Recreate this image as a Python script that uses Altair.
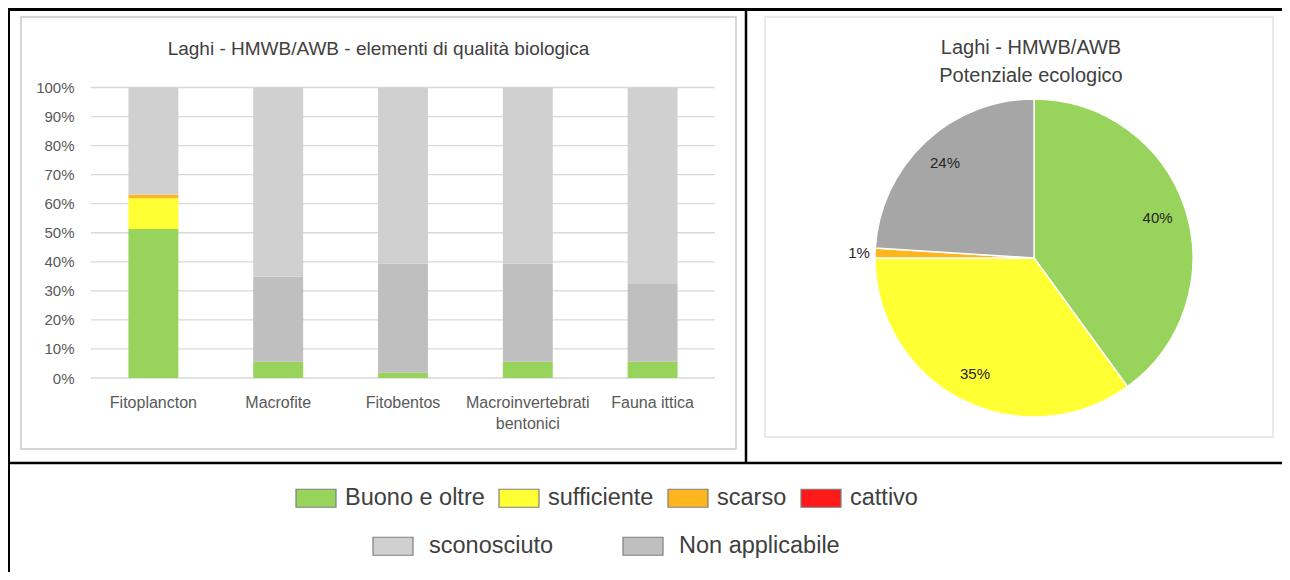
import altair as alt
import pandas as pd

FONT = "Liberation Sans"

# ---------------- data ----------------
elements = ["Fitoplancton", "Macrofite", "Fitobentos",
            "Macroinvertebrati bentonici", "Fauna ittica"]
buono = [51.3, 5.6, 1.8, 5.6, 5.6]
sufficiente = [10.6, 0.0, 0.0, 0.0, 0.0]
scarso = [1.2, 0.0, 0.0, 0.0, 0.0]
cattivo = [0.0, 0.0, 0.0, 0.0, 0.0]
non_applicabile = [0.0, 29.3, 37.5, 33.7, 27.0]
sconosciuto = [36.9, 65.1, 60.7, 60.7, 67.4]

status_cats = ["Buono e oltre", "sufficiente", "scarso", "cattivo"]
status_colors = ["#98D35C", "#FFFF33", "#FFB61E", "#FF1A1A"]
other_cats = ["sconosciuto", "Non applicabile"]
other_colors = ["#D0D0D0", "#BFBFBF"]

pie_cats = ["Buono e oltre", "sufficiente", "scarso", "Non applicabile"]
pie_values = [40, 35, 1, 24]
pie_colors = ["#98D35C", "#FFFF33", "#FFB61E", "#A6A6A6"]

y_ticks = [0, 10, 20, 30, 40, 50, 60, 70, 80, 90, 100]

bar_title = "Laghi - HMWB/AWB - elementi di qualità biologica"
pie_title = "Laghi - HMWB/AWB\nPotenziale ecologico"

# ---------------- tables ----------------
series = [("Buono e oltre", buono), ("sufficiente", sufficiente),
          ("scarso", scarso), ("cattivo", cattivo),
          ("Non applicabile", non_applicabile), ("sconosciuto", sconosciuto)]
rows = []
for order, (cat, vals) in enumerate(series):
    for el, v in zip(elements, vals):
        rows.append({"element": el, "category": cat, "value": v, "order": order})
bar_df = pd.DataFrame(rows)

pie_df = pd.DataFrame({"cat": pie_cats, "value": pie_values,
                       "order": list(range(len(pie_cats)))})
tick_df = pd.DataFrame({"tick": y_ticks})
one = pd.DataFrame({"d": [0]})

W, H = 1274, 564

# ---------------- scales / axes ----------------
y_scale = alt.Scale(domain=[0, 100], range=[370, 79.5], nice=False, zero=True)
x_scale = alt.Scale(range=[83, 707], paddingInner=0.6, paddingOuter=0.3)

y_axis = alt.Axis(values=y_ticks, labelExpr="datum.value + '%'", grid=False,
                  ticks=False, domain=False, offset=-83, labelPadding=17,
                  labelFontSize=15, labelColor="#595959", labelFont=FONT,
                  title=None)
x_axis = alt.Axis(title=None, ticks=False, domain=False, offset=-(H - 370),
                  labelPadding=16, labelAngle=0, labelFontSize=16,
                  labelColor="#595959", labelFont=FONT, labelOverlap=False,
                  labelLineHeight=21, labelLimit=300,
                  labelExpr="datum.value == 'Macroinvertebrati bentonici' ? ['Macroinvertebrati', 'bentonici'] : datum.label")

rect_path = "M-1,-0.45L1,-0.45L1,0.45L-1,0.45Z"

legend1 = alt.Legend(orient="none", legendX=287, legendY=469, direction="horizontal",
                     title=None, symbolType=rect_path, symbolSize=1600,
                     labelFontSize=23.5, labelFont=FONT, labelColor="#404040",
                     labelOffset=8, columnPadding=11, labelLimit=300,
                     symbolStrokeColor="#7F7F7F", symbolStrokeWidth=1.2)
legend2 = alt.Legend(orient="none", legendX=364, legendY=517, direction="horizontal",
                     title=None, symbolType=rect_path, symbolSize=1600,
                     labelFontSize=23.5, labelFont=FONT, labelColor="#404040",
                     labelOffset=15, columnPadding=66, labelLimit=300,
                     symbolStrokeColor="#7F7F7F", symbolStrokeWidth=1.2)

# ---------------- layers ----------------
grid = alt.Chart(tick_df).mark_rule(color="#D9D9D9", strokeWidth=1.3).encode(
    y=alt.Y("tick:Q", scale=y_scale, axis=y_axis),
    x=alt.value(83), x2=alt.value(707))

bar_base = alt.Chart(bar_df).transform_stack(
    stack="value", groupby=["element"], as_=["v0", "v1"],
    sort=[alt.SortField("order", order="ascending")])

bars_status = bar_base.transform_filter(
    alt.FieldOneOfPredicate(field="category", oneOf=status_cats)
).mark_bar().encode(
    x=alt.X("element:N", sort=elements, scale=x_scale, axis=x_axis),
    y=alt.Y("v0:Q", scale=y_scale, axis=y_axis),
    y2="v1:Q",
    fill=alt.Fill("category:N", sort=status_cats,
                  scale=alt.Scale(domain=status_cats, range=status_colors),
                  legend=legend1))

bars_other = bar_base.transform_filter(
    alt.FieldOneOfPredicate(field="category", oneOf=other_cats)
).mark_bar().encode(
    x=alt.X("element:N", sort=elements, scale=x_scale, axis=x_axis),
    y=alt.Y("v0:Q", scale=y_scale, axis=y_axis),
    y2="v1:Q",
    fill=alt.Fill("category:N", sort=other_cats,
                  scale=alt.Scale(domain=other_cats, range=other_colors),
                  legend=legend2))

pie_base = alt.Chart(pie_df).transform_stack(
    stack="value", groupby=[], as_=["t0", "t1"],
    sort=[alt.SortField("order", order="ascending")]
).transform_calculate(mid="(datum.t0 + datum.t1) / 2",
                      label="datum.value + '%'")

theta_scale = alt.Scale(domain=[0, 100])
CX, CY = 1026, 250

arcs = pie_base.mark_arc(radius=159, stroke="white", strokeWidth=1.5).encode(
    theta=alt.Theta("t0:Q", scale=theta_scale),
    theta2="t1:Q",
    fill=alt.Fill("cat:N", scale=alt.Scale(domain=pie_cats, range=pie_colors),
                  legend=None),
    x=alt.value(CX), y=alt.value(CY))

pie_labels_in = pie_base.transform_filter("datum.value >= 5").mark_text(
    radius=130, fontSize=15, font=FONT, color="#262626").encode(
    theta=alt.Theta("mid:Q", scale=theta_scale),
    text="label:N", x=alt.value(CX), y=alt.value(CY))

pie_labels_out = pie_base.transform_filter("datum.value < 5").mark_text(
    radius=175, fontSize=15, font=FONT, color="#262626").encode(
    theta=alt.Theta("mid:Q", scale=theta_scale),
    text="label:N", x=alt.value(CX), y=alt.value(CY))

t1 = alt.Chart(pd.DataFrame({"t": [bar_title]})).mark_text(
    fontSize=19, font=FONT, color="#404040", baseline="alphabetic", align="center"
).encode(text="t:N", x=alt.value(370.5), y=alt.value(47))

t2 = alt.Chart(pd.DataFrame({"t": [pie_title]})).mark_text(
    fontSize=20, font=FONT, color="#404040", baseline="alphabetic", align="center",
    lineBreak="\n", lineHeight=28
).encode(text="t:N", x=alt.value(1023), y=alt.value(45.5))

# frames
box_left = alt.Chart(one).mark_rect(fillOpacity=0, stroke="#C9C9C9", strokeWidth=1.5).encode(
    x=alt.value(13), x2=alt.value(728), y=alt.value(9), y2=alt.value(441))
box_right = alt.Chart(one).mark_rect(fillOpacity=0, stroke="#E3E3E3", strokeWidth=1.5).encode(
    x=alt.value(757), x2=alt.value(1265), y=alt.value(9), y2=alt.value(429))

line_top = alt.Chart(one).mark_rule(color="black", strokeWidth=3).encode(
    x=alt.value(0), x2=alt.value(W), y=alt.value(1.5))
line_left = alt.Chart(one).mark_rule(color="black", strokeWidth=3).encode(
    x=alt.value(0.5), y=alt.value(0), y2=alt.value(H))
line_mid = alt.Chart(one).mark_rule(color="black", strokeWidth=2.5).encode(
    x=alt.value(738), y=alt.value(0), y2=alt.value(455))
line_h = alt.Chart(one).mark_rule(color="black", strokeWidth=2.5).encode(
    x=alt.value(0), x2=alt.value(W), y=alt.value(455))

chart = alt.layer(
    box_left, box_right, grid, bars_status, bars_other, arcs,
    pie_labels_in, pie_labels_out, t1, t2,
    line_top, line_left, line_mid, line_h
).resolve_scale(fill="independent").properties(
    width=W, height=H, padding=0,
    autosize=alt.AutoSizeParams(type="none"),
    background="white"
).configure_view(stroke=None)

chart.save("out.html", embed_options={"renderer": "svg", "actions": False})
